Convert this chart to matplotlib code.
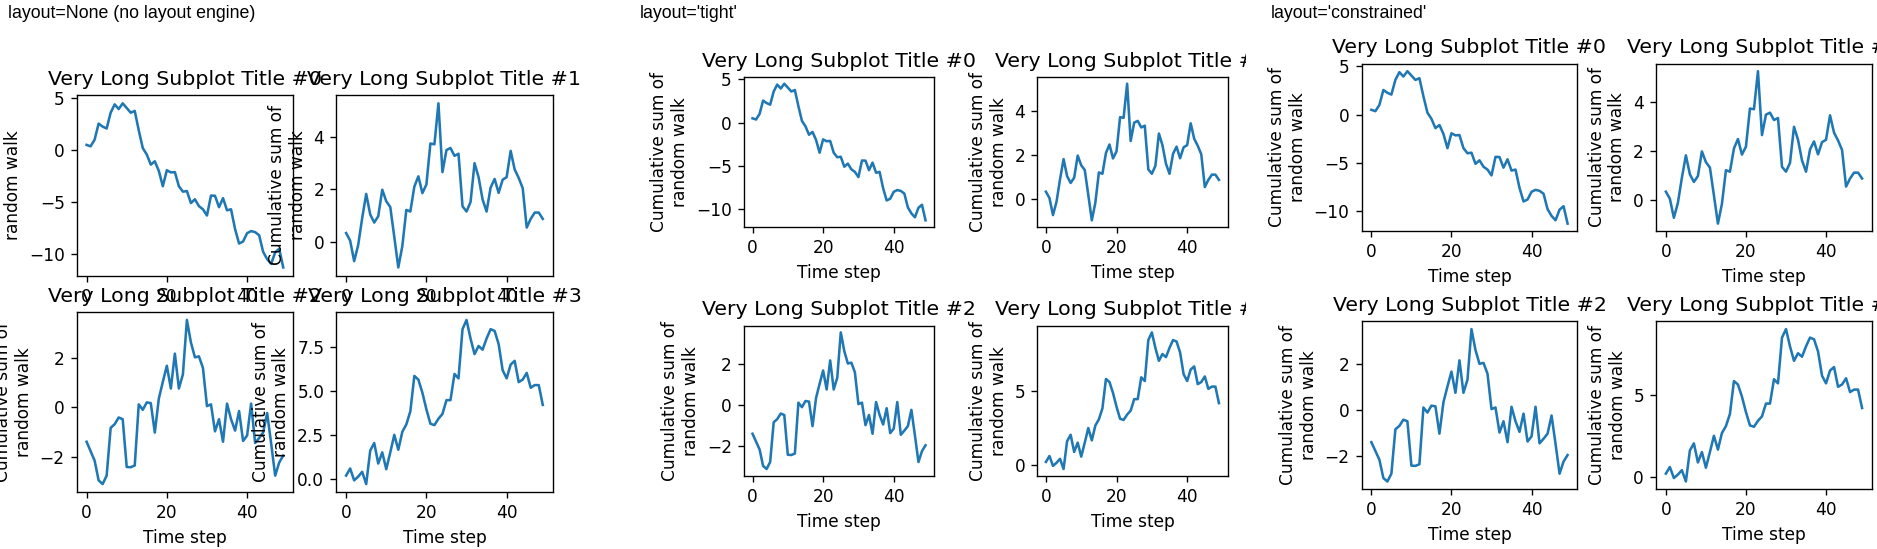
import matplotlib
matplotlib.use("Agg")
import matplotlib.pyplot as plt
from matplotlib.transforms import Bbox

# ---------------- data ----------------
time_steps = list(range(50))

walk_0 = [0.5, 0.36, 1.0, 2.55, 2.26, 2.08, 3.6, 4.4, 3.95, 4.5,
          4.05, 3.6, 3.77, 1.9, 0.2, -0.43, -1.4, -1.08, -2.0, -3.48,
          -1.94, -2.15, -2.12, -3.48, -4.0, -3.95, -5.1, -4.74, -5.4, -5.7,
          -6.3, -4.38, -4.4, -5.5, -4.63, -5.8, -5.7, -7.6, -9.0, -8.8,
          -8.0, -7.8, -7.9, -8.2, -9.8, -10.5, -10.95, -9.85, -9.5, -11.3]

walk_1 = [0.33, 0.04, -0.74, -0.13, 0.9, 1.82, 1.04, 0.73, 0.97, 1.98,
          1.54, 1.32, 0.18, -0.98, -0.17, 1.21, 1.15, 2.1, 2.49, 1.85,
          2.18, 3.74, 3.71, 5.27, 2.65, 3.49, 3.57, 3.27, 3.35, 1.35,
          1.15, 1.51, 2.99, 2.46, 1.61, 1.15, 2.06, 2.39, 1.86, 2.36,
          2.46, 3.46, 2.75, 2.43, 2.04, 0.54, 0.87, 1.11, 1.11, 0.87]

walk_2 = [-1.39, -1.77, -2.15, -2.95, -3.1, -2.76, -0.83, -0.68, -0.41, -0.48,
          -2.41, -2.42, -2.35, 0.12, -0.1, 0.2, 0.17, -1.02, 0.35, 1.03,
          1.68, 0.76, 2.17, 0.76, 1.33, 3.53, 2.62, 2.02, 2.06, 1.59,
          0.05, 0.12, -0.97, -0.48, -1.39, 0.15, -0.48, -0.94, -0.15, -1.36,
          -1.14, 0.15, -1.44, -1.24, -1.02, -0.23, -1.47, -2.76, -2.23, -1.95]

walk_3 = [0.21, 0.61, -0.06, 0.15, 0.42, -0.27, 1.62, 2.05, 0.89, 1.52,
          0.57, 1.52, 2.51, 1.67, 2.68, 3.1, 3.84, 5.84, 5.63, 4.89,
          3.95, 3.14, 3.06, 3.42, 3.69, 4.47, 4.47, 5.95, 5.7, 8.48,
          9.0, 7.95, 7.07, 7.53, 7.32, 7.95, 8.48, 8.38, 7.64, 6.16,
          5.7, 6.48, 6.69, 5.49, 5.63, 6.01, 5.17, 5.32, 5.32, 4.2]

walks = [walk_0, walk_1, walk_2, walk_3]
subplot_titles = ["Very Long Subplot Title #0", "Very Long Subplot Title #1",
                  "Very Long Subplot Title #2", "Very Long Subplot Title #3"]
x_label = "Time step"
y_label = "Cumulative sum of\nrandom walk"
layouts = [None, "tight", "constrained"]
panel_labels = ["layout=None (no layout engine)", "layout='tight'",
                "layout='constrained'"]

# ---------------- geometry ----------------
DPI = 122.8                      # each panel: a 5 x 4.2 in figure
FIG_W, FIG_H = 1877, 549
PANEL_W_IN, PANEL_H_IN = 5.0, 4.2
PANEL_W, PANEL_H = PANEL_W_IN * DPI, PANEL_H_IN * DPI
PANEL_X = [0, 632, 1263]
PANEL_TOP = FIG_H - PANEL_H


def draw(ax, k):
    ax.plot(time_steps, walks[k], color="#1f77b4", linewidth=1.5)
    ax.set_title(subplot_titles[k])
    ax.set_xlabel(x_label)
    ax.set_ylabel(y_label)


# compute axes positions with each layout engine on a panel-sized figure
panel_positions = []
for lay in layouts:
    tf = plt.figure(figsize=(PANEL_W_IN, PANEL_H_IN), dpi=DPI, layout=lay)
    taxs = tf.subplots(2, 2)
    for k, tax in enumerate(taxs.flat):
        draw(tax, k)
    tf.canvas.draw()
    panel_positions.append([tax.get_position().frozen() for tax in taxs.flat])
    plt.close(tf)

fig = plt.figure(figsize=(FIG_W / DPI, FIG_H / DPI), dpi=DPI)

panel_bottom = FIG_H - PANEL_TOP - PANEL_H
for p, lay in enumerate(layouts):
    x0 = PANEL_X[p]
    clip = Bbox.from_extents(x0, panel_bottom, x0 + PANEL_W, panel_bottom + PANEL_H)
    for k, pos in enumerate(panel_positions[p]):
        rect = [(x0 + pos.x0 * PANEL_W) / FIG_W,
                (panel_bottom + pos.y0 * PANEL_H) / FIG_H,
                pos.width * PANEL_W / FIG_W,
                pos.height * PANEL_H / FIG_H]
        ax = fig.add_axes(rect)
        draw(ax, k)
        for t in [ax.title, ax.xaxis.label, ax.yaxis.label]:
            t.set_clip_box(clip)
            t.set_clip_on(True)
    fig.text((x0 + 8) / FIG_W, (FIG_H - 18) / FIG_H, panel_labels[p],
             fontfamily="Liberation Sans", fontsize=10.4, va="baseline",
             ha="left")

fig.savefig("out.png", dpi=DPI)
